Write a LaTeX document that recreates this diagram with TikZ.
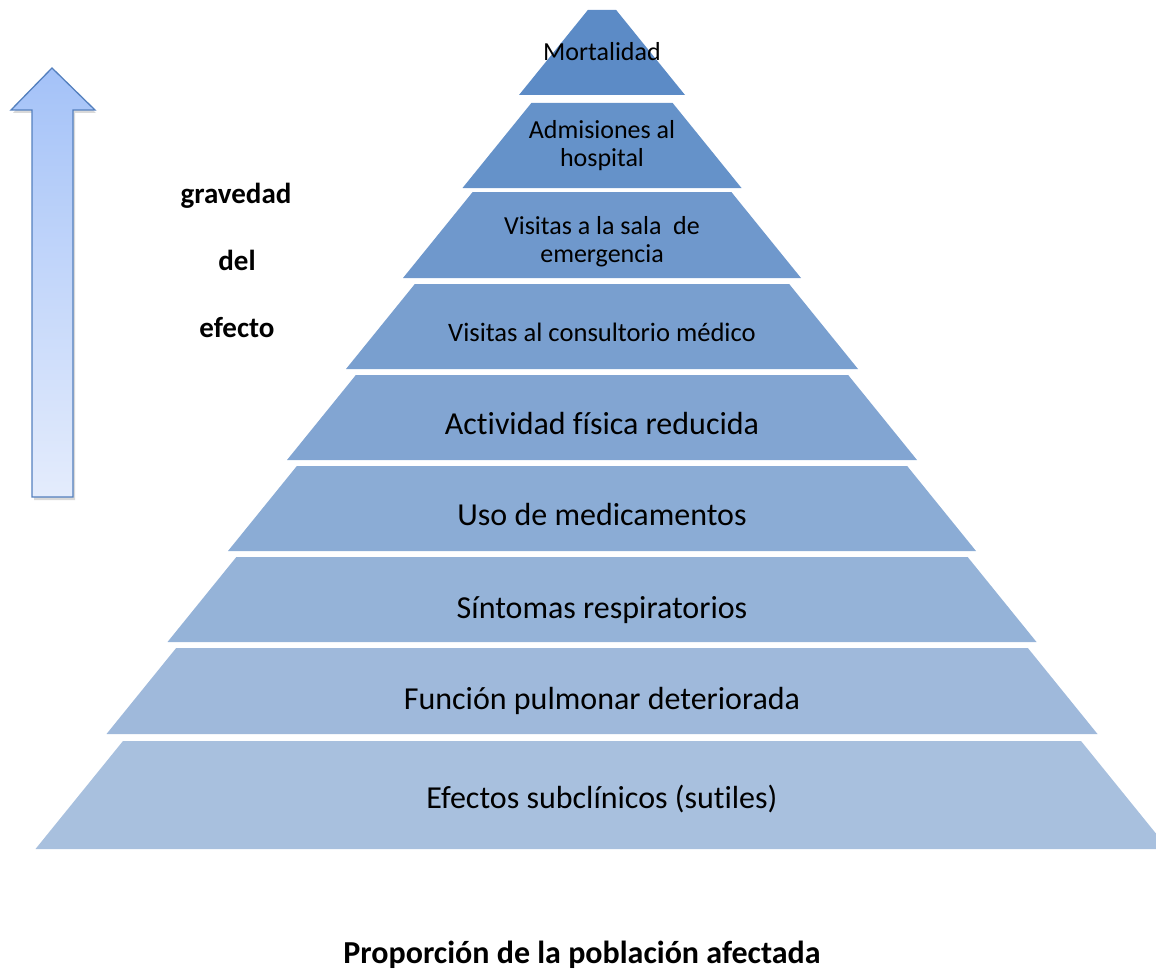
\documentclass[tikz,border=0pt]{standalone}
\usepackage{fontspec}
\setmainfont[Ligatures={NoCommon}]{Carlito}
\definecolor{pyrtop}{RGB}{92,139,198}
\definecolor{pyrbot}{RGB}{168,192,222}
\definecolor{arrtop}{RGB}{164,194,248}
\definecolor{arrbot}{RGB}{228,236,252}
\definecolor{arredge}{RGB}{84,128,190}
\colorlet{lv1}{pyrtop}
\colorlet{lv2}{pyrtop!87.5!pyrbot}
\colorlet{lv3}{pyrtop!75!pyrbot}
\colorlet{lv4}{pyrtop!62.5!pyrbot}
\colorlet{lv5}{pyrtop!50!pyrbot}
\colorlet{lv6}{pyrtop!37.5!pyrbot}
\colorlet{lv7}{pyrtop!25!pyrbot}
\colorlet{lv8}{pyrtop!12.5!pyrbot}
\colorlet{lv9}{pyrbot}
\tikzset{
  lvltext/.style={align=center, inner sep=0pt, text=black, anchor=base},
  sidelabel/.style={font=\fontsize{29}{34}\selectfont\bfseries, inner sep=0pt, anchor=base},
}
\begin{document}
\begin{tikzpicture}[x=1pt,y=-1pt]
\useasboundingbox (0,0) rectangle (1156,971);
\clip (0,0) rectangle (1156,971);
% pyramid levels: number / top y / bottom y / bottom half-width / font size / last-line baseline / text
\foreach \n/\yt/\yb/\hw/\fs/\bl/\txt in {
  1/10/95/83/26/61/{Mortalidad},
  2/103/188/139.5/26/166/{Admisiones al\\hospital},
  3/192/278/199/26/262/{Visitas a la sala\ \ de\\emergencia},
  4/284/369/256/26.6/341/{Visitas al consultorio médico},
  5/375/460/315/32/434/{Actividad física reducida},
  6/466/551/374/32/525/{Uso de medicamentos},
  7/557/642/434.5/32/618/{Síntomas respiratorios},
  8/648/734/495.5/32/709/{Función pulmonar deteriorada},
  9/741/849/566.5/32/808/{Efectos subclínicos (sutiles)}}
{
  \pgfmathsetmacro\thw{\hw-(\yb-\yt)*0.81}
  \fill[lv\n] (602-\hw,\yb) -- (602-\thw,\yt) -- (602+\thw,\yt) -- (602+\hw,\yb) -- cycle;
  \node[lvltext, font=\fontsize{\fs}{28}\selectfont] (lvl\n) at (602,\bl) {\txt};
}
% arrow shadow
\fill[black, opacity=0.15] (53,71) -- (96,113) -- (75,113) -- (75,500) -- (34,500) -- (34,113) -- (13,113) -- cycle;
% arrow
\draw[arredge, line width=1.3pt, top color=arrtop, bottom color=arrbot, line join=miter]
  (52,68) -- (95,110) -- (73,110) -- (73,497) -- (32,497) -- (32,110) -- (11,110) -- cycle;
% side labels
\node[sidelabel] (lg1) at (236,203) {gravedad};
\node[sidelabel] (lg2) at (237,270) {del};
\node[sidelabel] (lg3) at (237,337) {efecto};
% caption
\node[font=\fontsize{32}{38}\selectfont\bfseries, inner sep=0pt, anchor=base] (caption) at (582,963) {Proporción de la población afectada};
\end{tikzpicture}
\end{document}
